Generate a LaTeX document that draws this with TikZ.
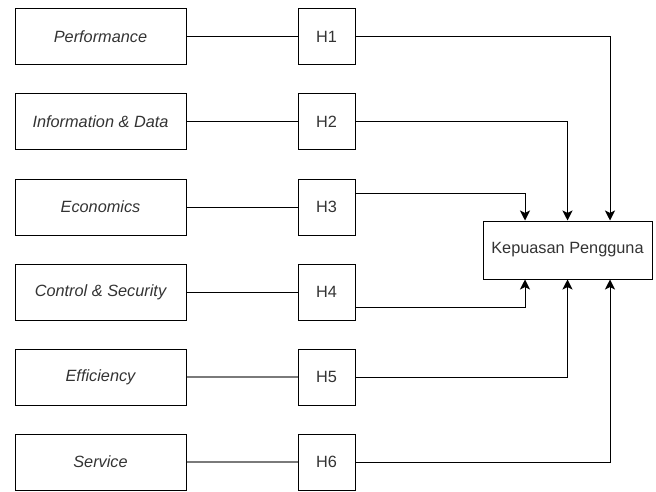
\documentclass[tikz,border=0pt]{standalone}
\usepackage{fontspec}
\setmainfont{Liberation Sans}
\usetikzlibrary{arrows.meta}
\definecolor{txt}{HTML}{333333}
\definecolor{lnk}{HTML}{7A7A7A}
\tikzset{
  factor/.style={draw=black, line width=1pt, minimum width=171pt, minimum height=56pt,
    inner sep=0pt, font=\fontsize{16.3}{19}\selectfont\itshape, text=txt},
  hyp/.style={draw=black, line width=1pt, minimum width=57pt, minimum height=56pt,
    inner sep=0pt, font=\fontsize{16.3}{19}\selectfont, text=txt},
  target/.style={draw=black, line width=1pt, minimum width=169pt, minimum height=58pt,
    inner sep=0pt, font=\fontsize{16.3}{19}\selectfont, text=txt},
  link/.style={draw=black, line width=1pt},
  greylink/.style={draw=lnk, line width=2.2pt},
  flow/.style={draw=black, line width=1pt, -{Stealth[length=10pt,width=10pt,inset=2.5pt]}}
}
\begin{document}
\begin{tikzpicture}[x=1pt,y=-1pt]
\useasboundingbox (0,0) rectangle (656,492);

% factor boxes
\node[factor] (f1) at (100.5,37)  {Performance};
\node[factor] (f2) at (100.5,122) {Information \& Data};
\node[factor] (f3) at (100.5,207) {Economics};
\node[factor] (f4) at (100.5,292) {Control \& Security};
\node[factor] (f5) at (100.5,377) {Efficiency};
\node[factor] (f6) at (100.5,462) {Service};

% hypothesis boxes
\node[hyp] (h1) at (326.5,37)  {H1};
\node[hyp] (h2) at (326.5,122) {H2};
\node[hyp] (h3) at (326.5,207) {H3};
\node[hyp] (h4) at (326.5,292) {H4};
\node[hyp] (h5) at (326.5,377) {H5};
\node[hyp] (h6) at (326.5,462) {H6};

% dependent variable
\node[target] (k) at (567.5,250) {Kepuasan Pengguna};

% factor -> hypothesis
\draw[link] (f1) -- (h1);
\draw[link] (f2) -- (h2);
\draw[link] (f3) -- (h3);
\draw[link] (f4) -- (h4);
\draw[greylink] (f5) -- (h5);
\draw[greylink] (f6) -- (h6);

% hypothesis -> Kepuasan Pengguna
\draw[flow] (h1.east) -| ([xshift=42.5pt]k.north);
\draw[flow] (h2.east) -| (k.north);
\draw[flow] ([yshift=14pt]h3.east) -| ([xshift=-42.5pt]k.north);
\draw[flow] ([yshift=-15pt]h4.east) -| ([xshift=-42.5pt]k.south);
\draw[flow] (h5.east) -| (k.south);
\draw[flow] (h6.east) -| ([xshift=42.5pt]k.south);
\end{tikzpicture}
\end{document}
